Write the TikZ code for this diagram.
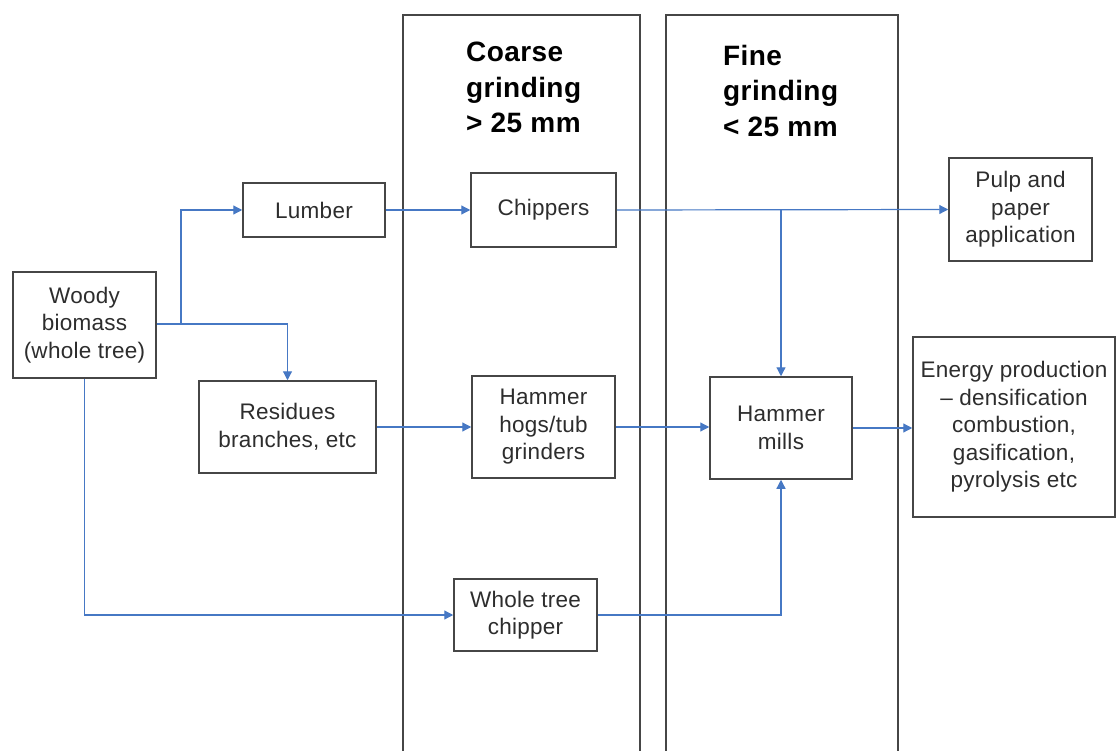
\documentclass[tikz,border=0pt]{standalone}
\usepackage{fontspec}
\setmainfont{Liberation Sans}
\usetikzlibrary{arrows.meta}
\definecolor{flowblue}{RGB}{70,120,196}
\definecolor{boxgray}{RGB}{70,70,70}
\definecolor{txtgray}{RGB}{45,45,45}
\tikzset{
  procbox/.style={draw=boxgray, line width=1.5pt, inner sep=0pt, align=center,
    text=txtgray, font=\fontsize{22.5}{27.5}\selectfont\addfontfeature{LetterSpace=1.2}},
  flow/.style={draw=flowblue, line width=1.2pt,
    -{Triangle[length=9pt,width=9pt]}},
  flowline/.style={draw=flowblue, line width=1.2pt},
  colbox/.style={draw=boxgray, line width=1.5pt},
  coltitle/.style={anchor=north west, align=left, inner sep=0pt,
    font=\bfseries\fontsize{28}{35.5}\selectfont\addfontfeature{LetterSpace=1.5}, text=black},
}
\begin{document}
\begin{tikzpicture}[x=1pt,y=-1pt]
\useasboundingbox (0,0) rectangle (1116,751);
\fill[white] (0,0) rectangle (1116,751);

% column frames (open at bottom)
\draw[colbox] (403,751) -- (403,15) -- (640,15) -- (640,751);
\draw[colbox] (666,751) -- (666,15) -- (898,15) -- (898,751);

\node[coltitle] (coarse) at (466,42) {Coarse\\grinding\\> 25 mm};
\node[coltitle] (fine) at (723,45) {Fine\\grinding\\< 25 mm};

% boxes
\node[procbox, minimum width=143pt, minimum height=106pt] (woody) at (84.5,325) {Woody\\biomass\\(whole tree)};
\node[procbox, minimum width=142pt, minimum height=54pt] (lumber) at (314,210) {Lumber};
\node[procbox, minimum width=177pt, minimum height=92pt] (resid) at (287.5,427) {Residues\\branches, etc};
\node[procbox, minimum width=145pt, minimum height=74pt] (chip) at (543.5,210) {Chippers};
\node[procbox, minimum width=143pt, minimum height=102pt] (hogs) at (543.5,427) {Hammer\\hogs/tub\\grinders};
\node[procbox, minimum width=143pt, minimum height=72pt] (wtc) at (525.5,615) {Whole tree\\chipper};
\node[procbox, minimum width=142pt, minimum height=102pt] (mills) at (781,428) {Hammer\\mills};
\node[procbox, minimum width=143pt, minimum height=103pt] (pulp) at (1020.5,209.5) {Pulp and\\paper\\application};
\node[procbox, minimum width=202pt, minimum height=180pt] (energy) at (1014,427) {Energy production\\– densification\\combustion,\\gasification,\\pyrolysis etc};

% connectors
\coordinate (split) at (181,324);
\coordinate (splitR) at (287.5,324);
\coordinate (wcorner) at (84.5,615);
\coordinate (chipsplit) at (781,210);
\coordinate (wtccorner) at (781,615);

\draw[flowline] (woody.east |- split) -- (split);
\draw[flow] (split) |- (lumber.west);
\draw[flow] (split) -- (splitR) -- (resid.north);
\draw[flow] (woody.south) -- (wcorner) -- (wtc.west);
\draw[flow] (lumber.east) -- (chip.west);
\draw[flow] (chip.east) -- (pulp.west);
\draw[flow] (chipsplit) -- (mills.north);
\draw[flow] (resid.east) -- (hogs.west);
\draw[flow] (hogs.east) -- (mills.west |- hogs.east);
\draw[flow] (wtc.east) -- (wtccorner) -- (mills.south);
\draw[flow] (mills.east) -- (energy.west |- mills.east);
\end{tikzpicture}
\end{document}
